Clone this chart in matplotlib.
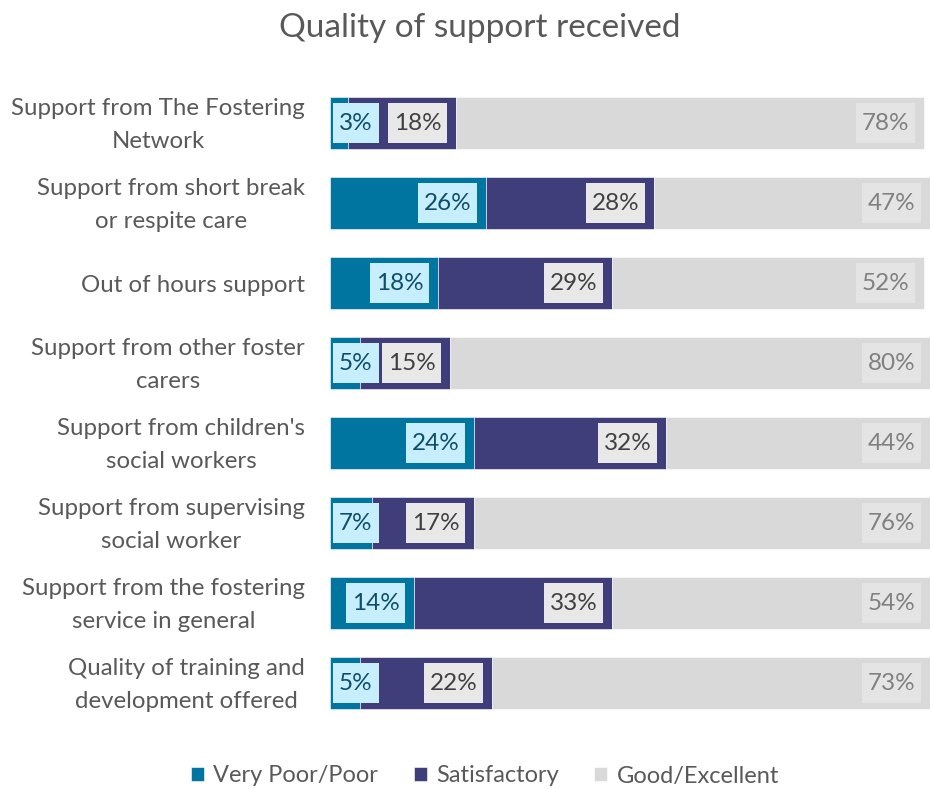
import numpy as np
import matplotlib.pyplot as plt
from matplotlib.patches import Rectangle
from matplotlib.transforms import IdentityTransform, blended_transform_factory, offset_copy

plt.rcParams['font.family'] = ['Lato', 'DejaVu Sans']

categories = ['Support from The Fostering\nNetwork',
              'Support from short break\nor respite care',
              'Out of hours support',
              'Support from other foster\ncarers',
              "Support from children's\nsocial workers",
              'Support from supervising\nsocial worker',
              'Support from the fostering\nservice in general',
              'Quality of training and\ndevelopment offered']
very_poor = [3, 26, 18, 5, 24, 7, 14, 5]
satisfactory = [18, 28, 29, 15, 32, 17, 33, 22]
good = [78, 47, 52, 80, 44, 76, 54, 73]

series = ['Very Poor/Poor', 'Satisfactory', 'Good/Excellent']
bar_cols = ['#00759f', '#403e7a', '#d9d9d9']
box_cols = ['#c6eefd', '#e8e8e8', '#e4e4e4']
txt_cols = ['#0d4e6b', '#404040', '#808080']

fig = plt.figure(figsize=(9.31, 7.89), dpi=100)
ax = fig.add_axes([330/931, 1-723/789, 600/931, 640/789])

y = np.arange(len(categories))
left = np.zeros(len(categories))
labels = []
for vals, name, bc, boxc, tc in zip([very_poor, satisfactory, good], series, bar_cols, box_cols, txt_cols):
    vals = np.array(vals, dtype=float)
    ax.barh(y, vals, left=left, height=0.66, color=bc, label=name,
            edgecolor='white', linewidth=0.4)
    ends = left + vals
    for yi, e, v in zip(y, ends, vals):
        # label sits at the inside end of the visible part of the bar
        t = ax.annotate('%d%%' % v, xy=(min(e, 100), yi), xytext=(-10.5, 0),
                        textcoords='offset points', ha='right', va='center',
                        fontsize=17.5, color=tc, annotation_clip=False, zorder=5)
        labels.append((t, boxc))
    left = ends

ax.set_xlim(0, 100)
ax.set_ylim(len(categories) - 0.5, -0.5)
ax.set_yticks([])
ax.set_xticks([])
for s in ax.spines.values():
    s.set_visible(False)

# category names, right-aligned against the bars, lines centred
trans = offset_copy(blended_transform_factory(ax.transAxes, ax.transData),
                    fig=fig, x=0, y=-2, units='dots')
for yi, name in zip(y, categories):
    ax.text(-25/600, yi, name, transform=trans, ha='right', va='center',
            multialignment='center', linespacing=1.65, fontsize=17.3, color='#595959')

# label boxes: measure each text, keep the smallest ones off the left edge,
# then put a filled box behind it
fig.canvas.draw()
r = fig.canvas.get_renderer()
ax_left = ax.get_window_extent(r).x0
padx, box_h = 6, 40
for t, boxc in labels:
    bb = t.get_window_extent(r)
    if bb.x0 - padx < ax_left and bb.width < 50:
        shift = ax_left + 3 + padx - bb.x0
        ox, oy = t.xyann
        t.xyann = (ox + shift * 0.72, oy)
        fig.canvas.draw()
        bb = t.get_window_extent(r)
    yc = ax.transData.transform((0, t.xy[1]))[1]
    rect = Rectangle((bb.x0 - padx, yc - box_h / 2), bb.width + 2 * padx, box_h,
                     transform=IdentityTransform(), facecolor=boxc, edgecolor='none',
                     zorder=4, clip_on=False)
    ax.add_patch(rect)

fig.text(480/931, 1-28/789, 'Quality of support received', ha='center', va='center',
         fontsize=24, color='#595959')

fig.legend(loc='center', bbox_to_anchor=(485/931, 1-776/789), ncol=3, frameon=False,
           fontsize=17, labelcolor='#595959', handlelength=0.55, handleheight=0.55,
           handletextpad=0.4, columnspacing=1.5)

fig.savefig('out.png', dpi=100)
